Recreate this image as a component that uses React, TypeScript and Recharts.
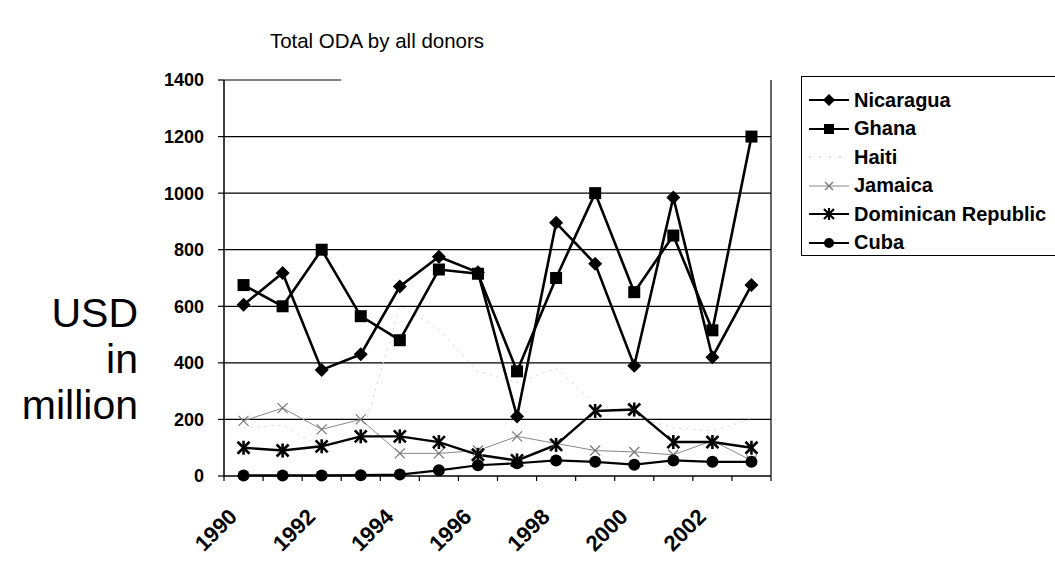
import React from 'react';
import { LineChart, Line, XAxis, YAxis, CartesianGrid, ReferenceLine } from 'recharts';

const years = ['1990', '1991', '1992', '1993', '1994', '1995', '1996', '1997', '1998', '1999', '2000', '2001', '2002', '2003'];
const labelYears = ['1990', '1992', '1994', '1996', '1998', '2000', '2002'];
const yTicks = [0, 200, 400, 600, 800, 1000, 1200, 1400];

const nicaragua = [605, 718, 375, 430, 670, 775, 720, 210, 895, 750, 390, 985, 420, 675];
const ghana = [675, 600, 800, 565, 480, 730, 715, 370, 700, 1000, 650, 850, 515, 1200];
const haiti = [170, 180, 100, 130, 600, 520, 370, 330, 380, 260, 210, 170, 160, 200];
const jamaica = [195, 240, 165, 200, 80, 80, 90, 140, 115, 90, 85, 75, 125, 55];
const dominican = [100, 90, 105, 140, 140, 120, 75, 55, 110, 230, 235, 120, 120, 100];
const cuba = [2, 2, 2, 3, 5, 20, 38, 45, 55, 50, 40, 55, 50, 50];

const FONT = "Arial, 'Liberation Sans', sans-serif";

// points sit between the tick marks, like Excel's category axis
const data = years.map((year, i) => ({
  year,
  pos: i + 0.5,
  Nicaragua: nicaragua[i],
  Ghana: ghana[i],
  Haiti: haiti[i],
  Jamaica: jamaica[i],
  Dominican: dominican[i],
  Cuba: cuba[i],
}));

const boundaryTicks = years.map((_, i) => i).concat(years.length);
const labelTicks = labelYears.map((y) => years.indexOf(y) + 0.5);

const Diamond = (p: any) => {
  const { cx, cy, index } = p;
  if (cx == null || cy == null) return <g key={`n${index}`} />;
  return <polygon key={`n${index}`} points={`${cx},${cy - 7} ${cx + 7},${cy} ${cx},${cy + 7} ${cx - 7},${cy}`} fill="#000" />;
};
const Square = (p: any) => {
  const { cx, cy, index } = p;
  if (cx == null || cy == null) return <g key={`g${index}`} />;
  return <rect key={`g${index}`} x={cx - 6} y={cy - 6} width={12} height={12} fill="#000" />;
};
const Cross = (p: any) => {
  const { cx, cy, index } = p;
  if (cx == null || cy == null) return <g key={`j${index}`} />;
  return (
    <g key={`j${index}`} stroke="#777" strokeWidth={1.2}>
      <line x1={cx - 5} y1={cy - 5} x2={cx + 5} y2={cy + 5} />
      <line x1={cx - 5} y1={cy + 5} x2={cx + 5} y2={cy - 5} />
    </g>
  );
};
const Star = (p: any) => {
  const { cx, cy, index } = p;
  if (cx == null || cy == null) return <g key={`d${index}`} />;
  return (
    <g key={`d${index}`} stroke="#000" strokeWidth={2.6}>
      <line x1={cx - 6} y1={cy - 6} x2={cx + 6} y2={cy + 6} />
      <line x1={cx - 6} y1={cy + 6} x2={cx + 6} y2={cy - 6} />
      <line x1={cx} y1={cy - 7} x2={cx} y2={cy + 7} />
    </g>
  );
};
const Circle = (p: any) => {
  const { cx, cy, index } = p;
  if (cx == null || cy == null) return <g key={`c${index}`} />;
  return <circle key={`c${index}`} cx={cx} cy={cy} r={6} fill="#000" />;
};

const YearTick = (p: any) => {
  const { x, y, payload } = p;
  const label = years[Math.round(payload.value - 0.5)];
  const ax = x - 5;
  const ay = y + 28;
  return (
    <text x={ax} y={ay} transform={`rotate(-45 ${ax} ${ay})`} textAnchor="end" fontFamily={FONT} fontWeight="bold" fontSize={22} fill="#000">
      {label}
    </text>
  );
};

const legendItems = [
  { name: 'Nicaragua', icon: 'diamond' },
  { name: 'Ghana', icon: 'square' },
  { name: 'Haiti', icon: 'dots' },
  { name: 'Jamaica', icon: 'cross' },
  { name: 'Dominican Republic', icon: 'star' },
  { name: 'Cuba', icon: 'circle' },
];

const LegendIcon = ({ icon }: { icon: string }) => (
  <svg width={44} height={20} style={{ display: 'block' }}>
    {icon === 'dots' && <line x1={2} y1={10} x2={42} y2={10} stroke="#bbb" strokeWidth={1} strokeDasharray="2 8" />}
    {icon === 'cross' && <line x1={2} y1={10} x2={42} y2={10} stroke="#888" strokeWidth={1} />}
    {icon !== 'dots' && icon !== 'cross' && <line x1={2} y1={10} x2={42} y2={10} stroke="#000" strokeWidth={2} />}
    {icon === 'diamond' && <polygon points="22,4 28,10 22,16 16,10" fill="#000" />}
    {icon === 'square' && <rect x={17} y={5} width={10} height={10} fill="#000" />}
    {icon === 'cross' && (
      <g stroke="#777" strokeWidth={1.2}>
        <line x1={18} y1={6} x2={26} y2={14} />
        <line x1={18} y1={14} x2={26} y2={6} />
      </g>
    )}
    {icon === 'star' && (
      <g stroke="#000" strokeWidth={2.2}>
        <line x1={17} y1={5} x2={27} y2={15} />
        <line x1={17} y1={15} x2={27} y2={5} />
        <line x1={22} y1={4} x2={22} y2={16} />
      </g>
    )}
    {icon === 'circle' && <circle cx={22} cy={10} r={5} fill="#000" />}
  </svg>
);

const axisWord = (text: string, top: number) => (
  <div style={{ position: 'absolute', right: 1055 - 138, top, height: 46, textAlign: 'right', fontSize: 41, lineHeight: '46px', color: '#000', whiteSpace: 'nowrap' }}>
    {text}
  </div>
);

export default function App() {
  return (
    <div style={{ position: 'absolute', left: 0, top: 0, width: 1055, height: 563, background: '#fff', fontFamily: FONT, overflow: 'hidden' }}>
      <div style={{ position: 'absolute', left: 227, width: 300, top: 29, textAlign: 'center', fontSize: 20.5, color: '#000' }}>
        Total ODA by all donors
      </div>
      {axisWord('USD', 290)}
      {axisWord('in', 336)}
      {axisWord('million', 382)}
      <LineChart width={1055} height={563} data={data} margin={{ top: 80, right: 283, bottom: 11, left: 164 }}>
        <CartesianGrid vertical={false} horizontalValues={[200, 400, 600, 800, 1000, 1200]} stroke="#000" strokeWidth={1.2} />
        <XAxis
          type="number"
          dataKey="pos"
          domain={[0, years.length]}
          ticks={boundaryTicks}
          tickFormatter={() => ''}
          tickSize={5}
          height={6}
          axisLine={{ stroke: '#000', strokeWidth: 1.5 }}
          tickLine={{ stroke: '#000', strokeWidth: 1.2 }}
        />
        <XAxis
          xAxisId="labels"
          type="number"
          dataKey="pos"
          domain={[0, years.length]}
          ticks={labelTicks}
          axisLine={false}
          tickLine={false}
          height={70}
          interval={0}
          tick={<YearTick />}
        />
        <YAxis
          domain={[0, 1400]}
          ticks={yTicks}
          width={60}
          tickSize={6}
          tickMargin={14}
          axisLine={{ stroke: '#000', strokeWidth: 1.5 }}
          tickLine={{ stroke: '#000', strokeWidth: 1.2 }}
          tick={{ fill: '#000', fontFamily: FONT, fontWeight: 'bold', fontSize: 18 }}
        />
        <YAxis yAxisId="right" orientation="right" width={1} tick={false} tickLine={false} axisLine={{ stroke: '#000', strokeWidth: 1.2 }} />
        <ReferenceLine segment={[{ x: 0, y: 1400 }, { x: 3, y: 1400 }]} stroke="#000" strokeWidth={1.2} />
        <Line dataKey="Haiti" stroke="#d2d2d2" strokeWidth={1} strokeDasharray="2 5" dot={false} isAnimationActive={false} />
        <Line dataKey="Jamaica" stroke="#888" strokeWidth={1} dot={<Cross />} isAnimationActive={false} />
        <Line dataKey="Cuba" stroke="#000" strokeWidth={2.2} dot={<Circle />} isAnimationActive={false} />
        <Line dataKey="Dominican" stroke="#000" strokeWidth={2.4} dot={<Star />} isAnimationActive={false} />
        <Line dataKey="Ghana" stroke="#000" strokeWidth={2.6} dot={<Square />} isAnimationActive={false} />
        <Line dataKey="Nicaragua" stroke="#000" strokeWidth={2.6} dot={<Diamond />} isAnimationActive={false} />
      </LineChart>
      <div style={{ position: 'absolute', left: 801, top: 76, width: 254, height: 180, borderLeft: '1.5px solid #000', borderTop: '1.5px solid #000', borderBottom: '1.5px solid #000', boxSizing: 'border-box', paddingTop: 9, paddingLeft: 5 }}>
        {legendItems.map((it) => (
          <div key={it.name} style={{ display: 'flex', alignItems: 'center', height: 28.5 }}>
            <LegendIcon icon={it.icon} />
            <span style={{ fontWeight: 'bold', fontSize: 20, marginLeft: 3, color: '#000', whiteSpace: 'nowrap' }}>{it.name}</span>
          </div>
        ))}
      </div>
    </div>
  );
}
